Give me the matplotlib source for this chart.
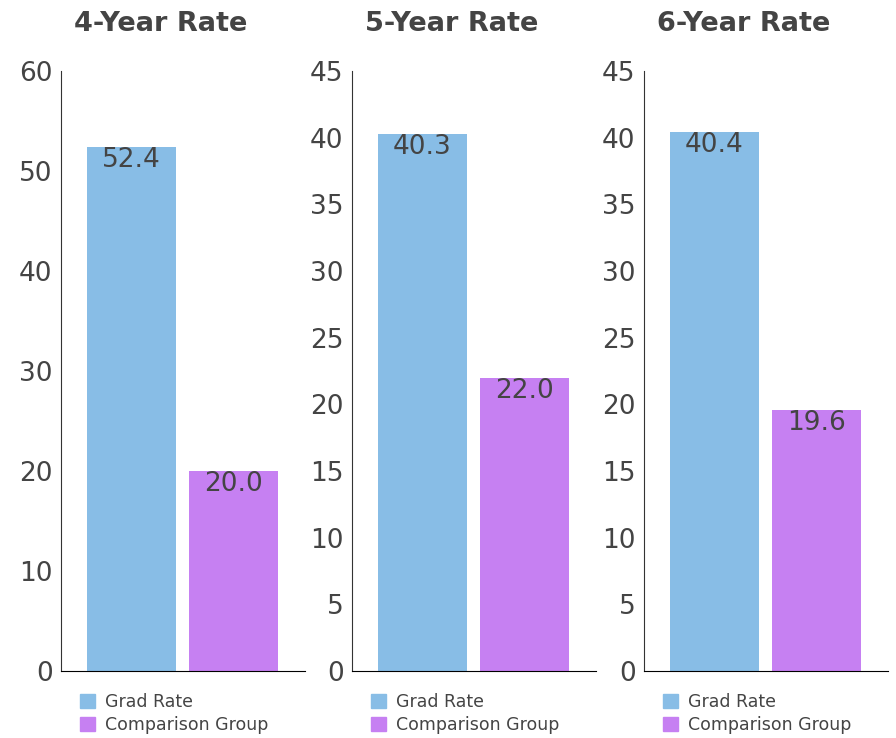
import matplotlib.pyplot as plt
from matplotlib.patches import Patch

titles = ['4-Year Rate', '5-Year Rate', '6-Year Rate']
series = ['Grad Rate', 'Comparison Group']
grad_rate = [52.4, 40.3, 40.4]
comparison = [20.0, 22.0, 19.6]
y_max = [60, 45, 45]
y_step = [10, 5, 5]

colors = ['#88bde6', '#c680f2']
txt = '#444444'

W, H = 896, 738
fig = plt.figure(figsize=(W / 100, H / 100), dpi=100)
plt.rcParams['font.family'] = 'DejaVu Sans'

lefts = [61, 352, 644]
for i in range(3):
    ax = fig.add_axes([lefts[i] / W, 67 / H, 244 / W, 600 / H])
    vals = [grad_rate[i], comparison[i]]
    bars = ax.bar([0, 1], vals, width=0.873, color=colors)
    for b, v in zip(bars, vals):
        ax.text(b.get_x() + b.get_width() / 2, v, f'{v:.1f}', ha='center', va='top',
                fontsize=19, color=txt)
    ax.set_xlim(-0.69, 1.70)
    ax.set_ylim(0, y_max[i])
    ax.set_yticks(range(0, y_max[i] + 1, y_step[i]))
    ax.set_xticks([])
    ax.tick_params(axis='y', length=0, pad=6, labelsize=19, labelcolor=txt)
    for s in ['top', 'right']:
        ax.spines[s].set_visible(False)
    ax.spines['left'].set_color('#333333')
    ax.spines['bottom'].set_color('#000000')
    ax.set_title(titles[i], x=0.41, y=1.0, pad=28.5, fontsize=19.5, fontweight='bold', color=txt)
    handles = [Patch(color=c) for c in colors]
    ax.legend(handles, series, loc='upper left', bbox_to_anchor=(0.05, -0.025), frameon=False,
              fontsize=12.5, labelcolor=txt, handlelength=0.85, handleheight=0.85,
              handletextpad=0.6, labelspacing=0.3, borderaxespad=0)

fig.savefig('out.png', dpi=100)
